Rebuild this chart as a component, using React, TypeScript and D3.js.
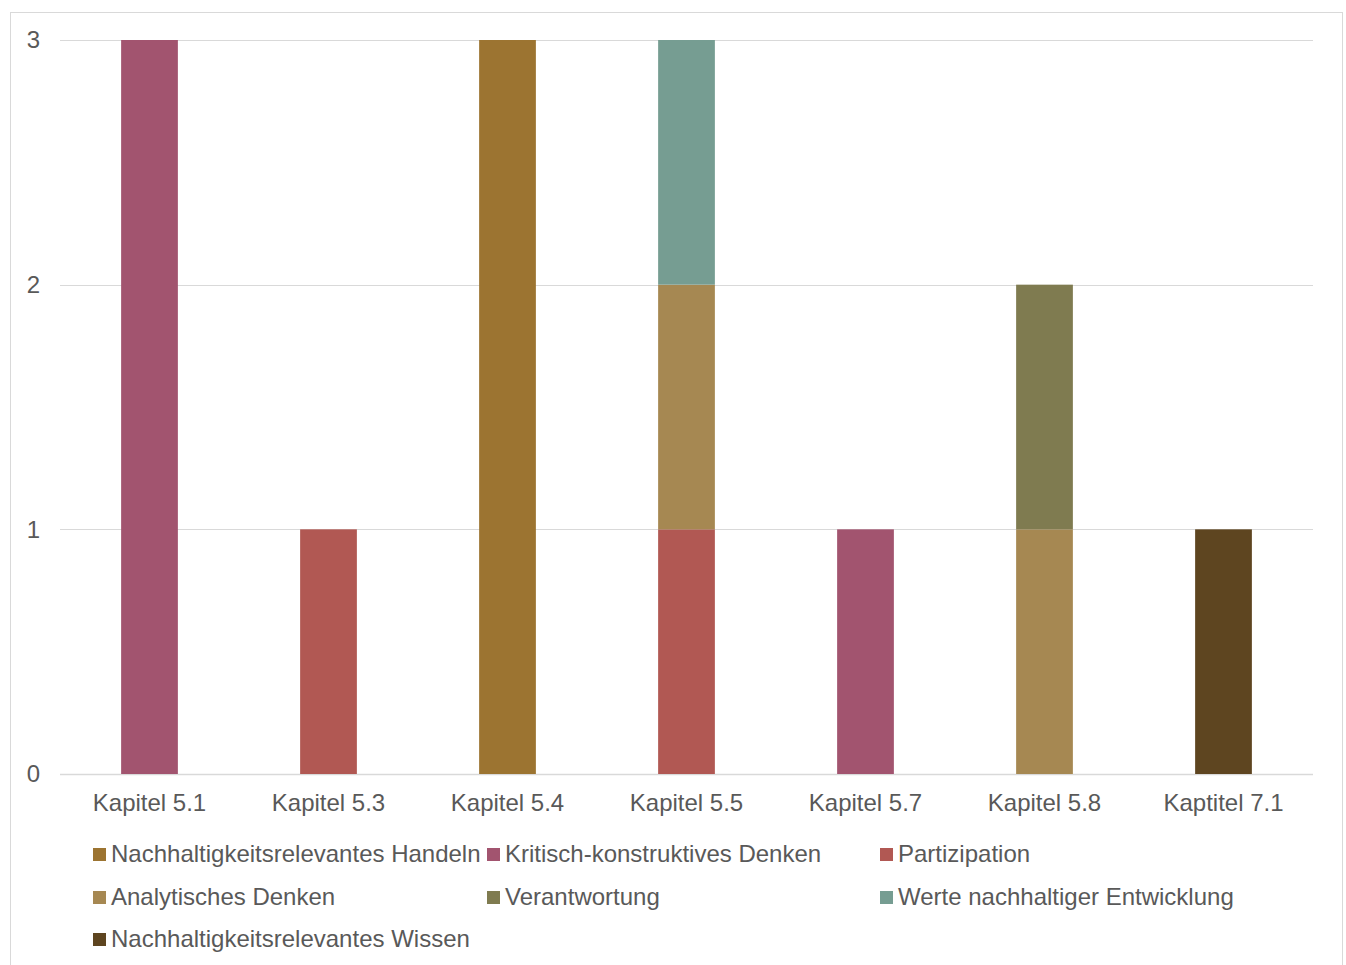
import React from "react";
import * as d3 from "d3";

const categories = ["Kapitel 5.1", "Kapitel 5.3", "Kapitel 5.4", "Kapitel 5.5", "Kapitel 5.7", "Kapitel 5.8", "Kaptitel 7.1"];
const seriesNames = [
  "Nachhaltigkeitsrelevantes Handeln",
  "Kritisch-konstruktives Denken",
  "Partizipation",
  "Analytisches Denken",
  "Verantwortung",
  "Werte nachhaltiger Entwicklung",
  "Nachhaltigkeitsrelevantes Wissen",
];
const colors = ["#9C7431", "#A2546F", "#B15853", "#A68852", "#7F7B50", "#769D92", "#5E4520"];
const handeln = [0, 0, 3, 0, 0, 0, 0];
const kritisch = [3, 0, 0, 0, 1, 0, 0];
const partizipation = [0, 1, 0, 1, 0, 0, 0];
const analytisch = [0, 0, 0, 1, 0, 1, 0];
const verantwortung = [0, 0, 0, 0, 0, 1, 0];
const werte = [0, 0, 0, 1, 0, 0, 0];
const wissen = [0, 0, 0, 0, 0, 0, 1];
const yTicks = [0, 1, 2, 3];

const seriesValues = [handeln, kritisch, partizipation, analytisch, verantwortung, werte, wissen];

export default function App() {
  const W = 1346, H = 965;
  const left = 60, right = 1313, top = 40, bottom = 774;
  const x = d3.scaleBand<string>().domain(categories).range([left, right]).paddingInner(0.683).paddingOuter(0.3415);
  const y = d3.scaleLinear().domain([0, 3]).range([bottom, top]);

  const rows = categories.map((c, i) => {
    const r: any = { cat: c };
    seriesNames.forEach((s, j) => (r[s] = seriesValues[j][i]));
    return r;
  });
  const stack = d3.stack<any>().keys(seriesNames)(rows);

  const font = "Arial, 'Liberation Sans', sans-serif";
  const textColor = "#595959";
  const legendCols = [93, 487, 880];
  const legendRows = [854, 897, 939];

  return (
    <svg width={W} height={H} style={{ position: "absolute", left: 0, top: 0 }} fontFamily={font}>
      <rect x={0} y={0} width={W} height={H} fill="#fff" />
      <rect x={10.5} y={12.5} width={1332} height={980} fill="#fff" stroke="#d9d9d9" strokeWidth={1} />
      {yTicks.map((t) => (
        <g key={t}>
          <line x1={left} x2={right} y1={Math.round(y(t)) + 0.5} y2={Math.round(y(t)) + 0.5} stroke="#d9d9d9" strokeWidth={t === 0 ? 1.5 : 1.2} />
          <text x={40} y={y(t)} dy="0.35em" textAnchor="end" fontSize={24} fill={textColor}>{t}</text>
        </g>
      ))}
      {stack.map((layer, j) => (
        <g key={seriesNames[j]} fill={colors[j]}>
          {layer.map((d, i) =>
            d[1] - d[0] > 0 ? (
              <rect key={i} x={x(categories[i])!} width={x.bandwidth()} y={y(d[1])} height={y(d[0]) - y(d[1])} />
            ) : null
          )}
        </g>
      ))}
      {categories.map((c) => (
        <text key={c} x={x(c)! + x.bandwidth() / 2} y={811} textAnchor="middle" fontSize={24} fill={textColor}>{c}</text>
      ))}
      {seriesNames.map((s, j) => {
        const cx = legendCols[j % 3];
        const cy = legendRows[Math.floor(j / 3)];
        return (
          <g key={s}>
            <rect x={cx} y={cy - 6} width={13} height={13} fill={colors[j]} />
            <text x={cx + 18} y={cy} dy="0.35em" fontSize={24} fill={textColor}>{s}</text>
          </g>
        );
      })}
    </svg>
  );
}
